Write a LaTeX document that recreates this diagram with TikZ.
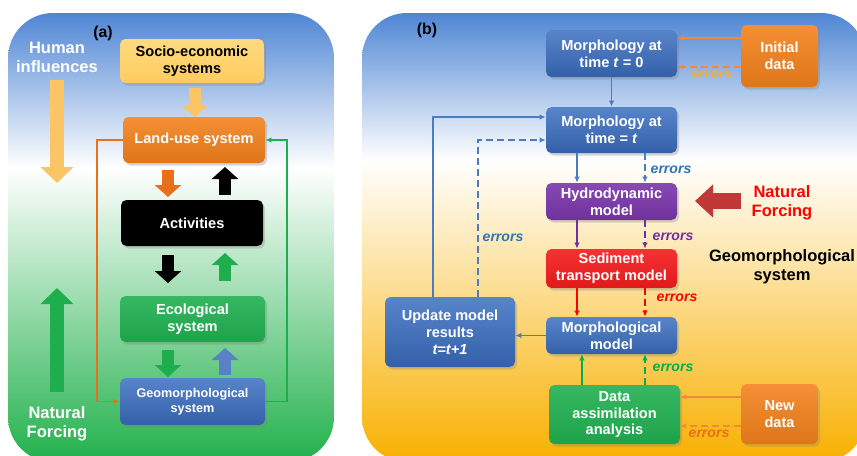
\documentclass[tikz,border=0pt]{standalone}
\usepackage{fontspec}
\setmainfont{Liberation Sans}
\usetikzlibrary{arrows.meta,shadows}

\definecolor{skyblue}{HTML}{4F86D4}
\definecolor{leafgreen}{HTML}{22B14C}
\definecolor{sandyellow}{HTML}{F8B000}
\definecolor{boxblue}{HTML}{3A6EC0}
\definecolor{boxorange}{HTML}{F2801A}
\definecolor{boxpurple}{HTML}{7A35AA}
\definecolor{boxred}{HTML}{F41C1C}
\definecolor{boxgreen}{HTML}{20B050}
\definecolor{boxyellow}{HTML}{FDD46A}
\definecolor{yelarrow}{HTML}{FBC465}
\definecolor{orgarrow}{HTML}{E8701A}
\definecolor{grnarrow}{HTML}{1FAE4E}
\definecolor{bluarrow}{HTML}{5A80C8}
\definecolor{arrowred}{HTML}{C03838}
\definecolor{linkblue}{HTML}{4A7CC4}
\definecolor{linkorange}{HTML}{F08A3A}
\definecolor{errblue}{HTML}{2E75B6}
\definecolor{errpurple}{HTML}{7030A0}
\definecolor{errred}{HTML}{FF0000}
\definecolor{errgreen}{HTML}{00B050}
\definecolor{erryellow}{HTML}{F0B030}

\begin{document}
\begin{tikzpicture}[x=0.2mm, y=-0.2mm,
        font=\bfseries\fontsize{8.3}{9.6}\selectfont,
        panel/.style={rounded corners=9mm},
        box/.style={rounded corners=1.1mm, align=center, text=white, inner sep=1pt,
            drop shadow={opacity=0.3, shadow xshift=0.4mm, shadow yshift=-0.5mm}},
        blubox/.style={box, top color=boxblue!85!white, bottom color=boxblue!88!black},
        orgbox/.style={box, top color=boxorange!88!white, bottom color=boxorange!92!black},
        purbox/.style={box, top color=boxpurple!90!white, bottom color=boxpurple!92!black},
        redbox/.style={box, top color=boxred!90!white, bottom color=boxred!92!black},
        grnbox/.style={box, top color=boxgreen!90!white, bottom color=boxgreen!92!black},
        yelbox/.style={box, text=black, top color=boxyellow!85!white, bottom color=boxyellow!90!orange},
        blkbox/.style={box, fill=black},
        link/.style={line width=0.75pt, -{Latex[length=1.2mm,width=1.1mm]}},
        dlink/.style={link, dash pattern=on 1.3mm off 0.9mm},
        err/.style={font=\bfseries\itshape\fontsize{8}{9}\selectfont},
        big/.style={font=\bfseries\fontsize{9.4}{10.8}\selectfont, align=center},
        fat/.style={line width=2.7mm, -{Triangle[length=3.2mm,width=6.4mm]}},
        blk/.style={line width=2.5mm, -{Triangle[length=2.4mm,width=5.2mm]}}]

    \useasboundingbox (0,0) rectangle (857,455);
    \clip (0,0) rectangle (857,455);
    \fill[white] (0,0) rectangle (857,455);

    % panel backgrounds
    \begin{scope}
        \clip[panel] (8,13) rectangle (334,462);
        \shade[top color=skyblue, bottom color=white] (8,13) rectangle (334,168);
        \shade[top color=white, bottom color=leafgreen] (8,168) rectangle (334,462);
    \end{scope}
    \begin{scope}
        \clip[panel] (362,13) rectangle (866,462);
        \shade[top color=skyblue, bottom color=white] (362,13) rectangle (866,160);
        \shade[top color=white, bottom color=sandyellow] (362,160) rectangle (866,462);
    \end{scope}

    % (a)
    \node[font=\bfseries\fontsize{9}{10}\selectfont] (taga) at (103,33) {(a)};
    \node[big, text=white] (human) at (57,57) {Human\\influences};
    \node[big, text=white] (forcea) at (57,424) {Natural\\Forcing};
    \draw[fat, draw=yelarrow] (57,80) -- (57,183);
    \draw[fat, draw=grnarrow] (57,392) -- (57,288);

    \node[yelbox, minimum width=28.8mm, minimum height=8.8mm] (socio) at (192,61) {Socio-economic\\systems};
    \node[orgbox, minimum width=28.4mm, minimum height=9.2mm] (land) at (194,140) {Land-use system};
    \node[blkbox, minimum width=28.4mm, minimum height=9.2mm] (act) at (192,223) {Activities};
    \node[grnbox, minimum width=29mm, minimum height=9.2mm] (eco) at (192.5,319) {Ecological\\system};
    \node[blubox, minimum width=29mm, minimum height=9.4mm, font=\bfseries\fontsize{7.2}{8.6}\selectfont] (geo) at (192.5,401.5) {Geomorphological\\system};

    \draw[blk, draw=yelarrow] (195,88) -- (195,117);
    \draw[blk, draw=orgarrow] (168,170) -- (168,197);
    \draw[blk, draw=black] (225,195) -- (225,167);
    \draw[blk, draw=black] (168,255) -- (168,283);
    \draw[blk, draw=grnarrow] (225,281) -- (225,253);
    \draw[blk, draw=grnarrow] (168,350) -- (168,377);
    \draw[blk, draw=bluarrow] (225,375) -- (225,348);

    \coordinate (lft) at (97,0);
    \coordinate (rgt) at (287,0);
    \draw[link, draw=orgarrow] (land.west) -- (land.west -| lft) -- (geo.west -| lft) -- (geo.west);
    \draw[link, draw=grnarrow] (geo.east) -- (geo.east -| rgt) -- (land.east -| rgt) -- (land.east);

    % (b)
    \node[font=\bfseries\fontsize{9}{10}\selectfont] (tagb) at (427,30) {(b)};
    \node[blubox, minimum width=26.2mm, minimum height=9.4mm] (m0) at (611.5,53.5) {Morphology at\\time \textit{t} = 0};
    \node[orgbox, minimum width=15.4mm, minimum height=12.4mm] (ini) at (779.5,56) {Initial\\data};
    \node[blubox, minimum width=26.2mm, minimum height=9.2mm] (mt) at (611.5,130) {Morphology at\\time = \textit{t}};
    \node[purbox, minimum width=26.2mm, minimum height=7.4mm] (hyd) at (611.5,201.5) {Hydrodynamic\\model};
    \node[redbox, minimum width=26.2mm, minimum height=7.8mm] (sed) at (611.5,268.5) {Sediment\\transport model};
    \node[blubox, minimum width=26.2mm, minimum height=7.4mm] (mm) at (611.5,335.5) {Morphological\\model};
    \node[blubox, minimum width=26mm, minimum height=14mm] (upd) at (450,332) {Update model\\results\\\textit{t=t+1}};
    \node[grnbox, minimum width=26.2mm, minimum height=11.8mm] (dat) at (614.5,414.5) {Data\\assimilation\\analysis};
    \node[orgbox, minimum width=15.4mm, minimum height=12mm] (new) at (779.5,414) {New\\data};

    \node[big, text=errred] (forceb) at (782,203) {Natural\\Forcing};
    \node[big] (geob) at (782,267) {Geomorphological\\system};
    \draw[line width=3.2mm, draw=arrowred, -{Triangle[length=3.6mm,width=6.4mm]}] (741,201) -- (695,201);

    \coordinate (colA) at (577,0);
    \coordinate (colB) at (645,0);
    \coordinate (colC) at (582,0);
    \coordinate (rowA) at (0,38);
    \coordinate (rowB) at (0,67);
    \coordinate (rowC) at (0,397);
    \coordinate (rowD) at (0,426);
    \coordinate (fbA) at (433,117);
    \coordinate (fbB) at (478,140);

    \draw[link, draw=linkorange] (ini.west |- rowA) -- (m0.east |- rowA);
    \draw[dlink, draw=linkorange] (ini.west |- rowB) -- (m0.east |- rowB);
    \draw[link, draw=linkblue] (m0) -- (mt);
    \draw[link, draw=linkblue] (mt.south -| colA) -- (hyd.north -| colA);
    \draw[dlink, draw=linkblue] (mt.south -| colB) -- (hyd.north -| colB);
    \draw[link, draw=errpurple] (hyd.south -| colA) -- (sed.north -| colA);
    \draw[dlink, draw=errpurple] (hyd.south -| colB) -- (sed.north -| colB);
    \draw[link, draw=errred] (sed.south -| colA) -- (mm.north -| colA);
    \draw[dlink, draw=errred] (sed.south -| colB) -- (mm.north -| colB);
    \draw[link, draw=errgreen] (dat.north -| colC) -- (mm.south -| colC);
    \draw[dlink, draw=errgreen] (dat.north -| colB) -- (mm.south -| colB);
    \draw[link, draw=linkorange] (new.west |- rowC) -- (dat.east |- rowC);
    \draw[dlink, draw=linkorange] (new.west |- rowD) -- (dat.east |- rowD);
    \draw[link, draw=linkblue] (mm.west) -- (mm.west -| upd.east);
    \draw[link, draw=linkblue] (upd.north -| fbA) -- (fbA) -- (mt.west |- fbA);
    \draw[dlink, draw=linkblue] (upd.north -| fbB) -- (fbB) -- (mt.west |- fbB);

    \node[err, text=erryellow] (e1) at (712,75) {errors};
    \node[err, text=errblue] (e2) at (671,170) {errors};
    \node[err, text=errpurple] (e3) at (673,237) {errors};
    \node[err, text=errred] (e4) at (677,298) {errors};
    \node[err, text=errgreen] (e5) at (673,368) {errors};
    \node[err, text=orgarrow] (e6) at (709,434) {errors};
    \node[err, text=errblue] (e7) at (503,238) {errors};
\end{tikzpicture}
\end{document}
